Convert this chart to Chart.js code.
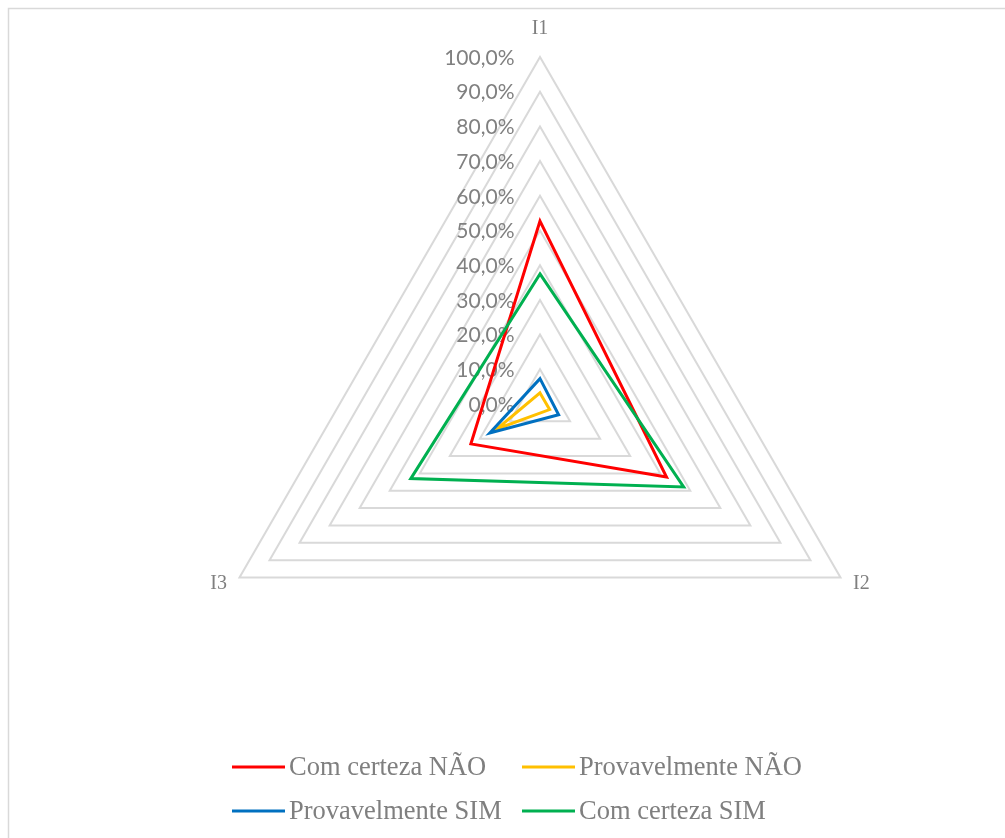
<!DOCTYPE html>
<html>
<head>
<meta charset="utf-8">
<script src="https://cdn.jsdelivr.net/npm/chart.js@4/dist/chart.umd.min.js"></script>
<style>
  html, body { margin: 0; padding: 0; background: #ffffff; }
  canvas { display: block; }
</style>
</head>
<body>
<canvas id="radar" width="1005" height="838"></canvas>
<script>
// Axes of the radar
const categories = ['I1', 'I2', 'I3'];

// Share of answers per item (percent)
const comCertezaNao = [52.7, 42.1, 23.0];
const provavelmenteNao = [3.2, 3.2, 14.4];
const provavelmenteSim = [7.3, 6.2, 16.7];
const comCertezaSim = [37.5, 47.8, 43.0];

// Radial axis ticks
const tickValues = [0, 10, 20, 30, 40, 50, 60, 70, 80, 90, 100];
const tickLabels = ['0,0%', '10,0%', '20,0%', '30,0%', '40,0%', '50,0%', '60,0%', '70,0%', '80,0%', '90,0%', '100,0%'];

const seriesNames = ['Com certeza NÃO', 'Provavelmente NÃO', 'Provavelmente SIM', 'Com certeza SIM'];
const seriesData = [comCertezaNao, provavelmenteNao, provavelmenteSim, comCertezaSim];
const seriesColors = ['#ff0000', '#ffc000', '#0070c0', '#00b050'];

const TEXT_GREY = '#7f7f7f';
const SERIF = '"Liberation Serif", "Times New Roman", serif';

// Frame and white background
const framePlugin = {
  id: 'frame',
  beforeDraw(chart) {
    const ctx = chart.ctx;
    ctx.save();
    ctx.fillStyle = '#ffffff';
    ctx.fillRect(0, 0, chart.width, chart.height);
    ctx.strokeStyle = '#d9d9d9';
    ctx.lineWidth = 1.5;
    ctx.strokeRect(8.5, 8.5, chart.width + 20, chart.height + 20);
    ctx.restore();
  }
};

// Percent labels to the left of the I1 spoke
const tickLabelPlugin = {
  id: 'tickLabels',
  beforeDatasetsDraw(chart) {
    const r = chart.scales.r;
    const ctx = chart.ctx;
    ctx.save();
    ctx.font = '21px Lato, "Open Sans", sans-serif';
    ctx.fillStyle = '#808080';
    ctx.textAlign = 'right';
    ctx.textBaseline = 'middle';
    tickValues.forEach((v, i) => {
      const y = r.yCenter - r.getDistanceFromCenterForValue(v);
      ctx.fillText(tickLabels[i], r.xCenter - 25.5, y + 1);
    });
    ctx.restore();
  }
};

// Category names at the triangle corners
const pointLabelPlugin = {
  id: 'cornerLabels',
  afterDatasetsDraw(chart) {
    const r = chart.scales.r;
    const ctx = chart.ctx;
    ctx.save();
    ctx.font = '20px ' + SERIF;
    ctx.fillStyle = TEXT_GREY;
    ctx.textBaseline = 'middle';
    categories.forEach((name, i) => {
      const p = r.getPointPosition(i, r.drawingArea);
      if (i === 0) {
        ctx.textAlign = 'center';
        ctx.fillText(name, p.x, p.y - 28);
      } else if (p.x > r.xCenter) {
        ctx.textAlign = 'left';
        ctx.fillText(name, p.x + 12.5, p.y + 6.5);
      } else {
        ctx.textAlign = 'right';
        ctx.fillText(name, p.x - 12.5, p.y + 6.5);
      }
    });
    ctx.restore();
  }
};

// Two-column legend below the plot
const legendPlugin = {
  id: 'gridLegend',
  afterDraw(chart) {
    const ctx = chart.ctx;
    const colX = [232, 522];
    const rowY = [767, 811];
    ctx.save();
    ctx.font = '26.5px ' + SERIF;
    ctx.textBaseline = 'middle';
    ctx.textAlign = 'left';
    chart.data.datasets.forEach((ds, i) => {
      const x = colX[i % 2];
      const y = rowY[Math.floor(i / 2)];
      ctx.strokeStyle = ds.borderColor;
      ctx.lineWidth = 3;
      ctx.beginPath();
      ctx.moveTo(x, y);
      ctx.lineTo(x + 53, y);
      ctx.stroke();
      ctx.fillStyle = TEXT_GREY;
      ctx.fillText(ds.label, x + 57, y + 1);
    });
    ctx.restore();
  }
};

new Chart(document.getElementById('radar'), {
  type: 'radar',
  data: {
    labels: categories,
    datasets: seriesNames.map((name, i) => ({
      label: name,
      data: seriesData[i],
      borderColor: seriesColors[i],
      backgroundColor: 'rgba(0,0,0,0)',
      borderWidth: 3,
      borderJoinStyle: 'miter',
      fill: false,
      pointRadius: 0,
      pointHoverRadius: 0,
      tension: 0,
      order: seriesNames.length - i
    }))
  },
  options: {
    responsive: false,
    devicePixelRatio: 1,
    animation: false,
    events: [],
    layout: { padding: { left: 193, right: 118, top: 57, bottom: 87 } },
    plugins: {
      legend: { display: false },
      tooltip: { enabled: false },
      title: { display: false }
    },
    scales: {
      r: {
        min: 0,
        max: 100,
        beginAtZero: true,
        ticks: { display: false, stepSize: 10 },
        grid: { color: '#d9d9d9', lineWidth: 2 },
        angleLines: { display: false },
        pointLabels: { display: false }
      }
    }
  },
  plugins: [framePlugin, tickLabelPlugin, pointLabelPlugin, legendPlugin]
});
</script>
</body>
</html>
